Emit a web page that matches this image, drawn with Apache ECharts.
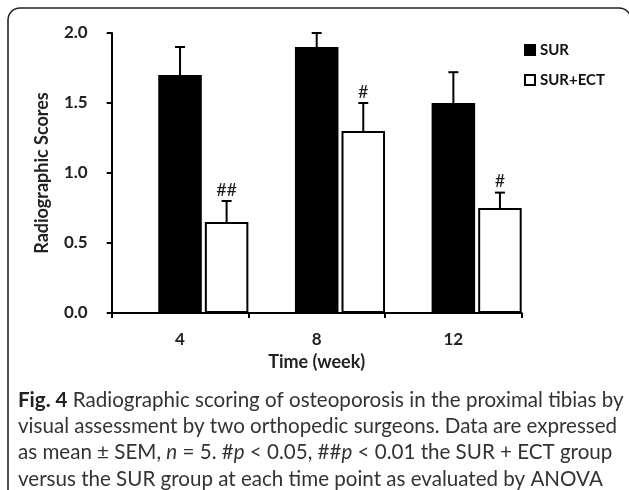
<!DOCTYPE html>
<html>
<head>
<meta charset="utf-8">
<script src="https://cdn.jsdelivr.net/npm/echarts@6/dist/echarts.min.js"></script>
<style>
html,body{margin:0;padding:0;background:#fff;}
#chart{width:629px;height:490px;}
</style>
</head>
<body>
<div id="chart"></div>
<script>
// ---- data ----
const categories = ['4', '8', '12'];
const surMean = [1.7, 1.9, 1.5];
const surSem = [0.2, 0.1, 0.22];
const ectMean = [0.65, 1.3, 0.75];
const ectSem = [0.15, 0.2, 0.11];
const ectMarks = ['##', '#', '#'];
const surMarks = ['', '', ''];
const yMin = 0, yMax = 2, yInterval = 0.5;
const captionLines = [
  '{b|Fig. 4} Radiographic scoring of osteoporosis in the proximal tibias by',
  'visual assessment by two orthopedic surgeons. Data are expressed',
  'as mean \u00b1 SEM, {i|n} = 5. #{i|p} < 0.05, ##{i|p} < 0.01 the SUR + ECT group',
  'versus the SUR group at each time point as evaluated by ANOVA'
];

const G = 0.07; // bar gap ratio
const FONT = 'Lato';

// fit caption font size so that line 1 spans the target width
function fitCaption() {
  const c = document.createElement('canvas').getContext('2d');
  const base = 18;
  c.font = 'bold ' + base + 'px ' + FONT;
  let w = c.measureText('Fig. 4').width;
  c.font = base + 'px ' + FONT;
  w += c.measureText(' Radiographic scoring of osteoporosis in the proximal tibias by').width;
  return base * 606 / w;
}
const capSize = fitCaption();

function errRender(slot, marks) {
  return function (params, api) {
    const idx = api.value(0);
    const mean = api.value(1);
    const sem = api.value(2);
    const c0 = api.coord([idx, mean]);
    const c1 = api.coord([idx, mean + sem]);
    const band = api.size([1, 0])[0];
    const bw = band / (3 + 2 * G);
    const x = c0[0] - band / 2 + bw * (slot + 0.5) + G * bw * slot;
    const cap = 5;
    const st = { stroke: '#000', lineWidth: 2 };
    return {
      type: 'group',
      children: [
        { type: 'line', shape: { x1: x, y1: c0[1], x2: x, y2: c1[1] }, style: st },
        { type: 'line', shape: { x1: x - cap, y1: c1[1], x2: x + cap, y2: c1[1] }, style: st },
        { type: 'text', x: x, y: c1[1] - 2,
          style: { text: marks[params.dataIndex], fill: '#1a1a1a', font: '18px ' + FONT,
                   textAlign: 'center', textVerticalAlign: 'bottom' } }
      ]
    };
  };
}

const chart = echarts.init(document.getElementById('chart'), null, { renderer: 'canvas' });

const graphics = [
  { type: 'rect', shape: { x: 8, y: 8, width: 623, height: 540, r: 12 },
    style: { fill: 'none', stroke: '#222', lineWidth: 1.6 }, z: -1 }
];
captionLines.forEach((t, i) => {
  graphics.push({
    type: 'text', left: 18, top: 402 + i * 26.3 - capSize * 0.6,
    style: {
      text: t, fill: '#333', font: capSize + 'px ' + FONT,
      rich: {
        b: { fontWeight: 'bold', fontSize: capSize, fontFamily: FONT, fill: '#222' },
        i: { fontStyle: 'italic', fontSize: capSize, fontFamily: FONT, fill: '#333' }
      }
    }
  });
});

chart.setOption({
  backgroundColor: '#fff',
  animation: false,
  grid: { left: 111.7, right: 107.3, top: 33, bottom: 177, containLabel: false },
  legend: {
    orient: 'vertical', left: 519, top: 37, itemWidth: 10, itemHeight: 10, itemGap: 14,
    icon: 'rect', data: ['SUR', 'SUR+ECT'],
    textStyle: { fontFamily: FONT, fontWeight: 'bold', fontSize: 15, color: '#111', lineHeight: 16 }
  },
  xAxis: {
    type: 'category', data: categories,
    axisLine: { lineStyle: { color: '#000', width: 2 } },
    axisTick: { show: true, length: 5, lineStyle: { color: '#000', width: 2 } },
    axisLabel: { fontFamily: FONT, fontWeight: 'bold', fontSize: 17, color: '#222', margin: 18 },
    name: 'Time (week)', nameLocation: 'middle', nameGap: 38,
    nameTextStyle: { fontFamily: FONT, fontWeight: 'bold', fontSize: 18, color: '#222' }
  },
  yAxis: {
    type: 'value', min: yMin, max: yMax, interval: yInterval,
    axisLine: { show: true, lineStyle: { color: '#000', width: 2 } },
    axisTick: { show: true, length: 5, lineStyle: { color: '#000', width: 2 } },
    splitLine: { show: false },
    axisLabel: { formatter: v => v.toFixed(1), fontFamily: FONT, fontWeight: 'bold', fontSize: 17,
                 color: '#222', margin: 24 },
    name: 'Radiographic Scores', nameLocation: 'middle', nameGap: 61,
    nameTextStyle: { fontFamily: FONT, fontWeight: 'bold', fontSize: 18, color: '#222' }
  },
  graphic: graphics,
  series: [
    { name: 'pad', type: 'bar', data: categories.map(() => 0), barCategoryGap: '0%', barGap: (G * 100) + '%',
      itemStyle: { color: 'rgba(0,0,0,0)' }, silent: true },
    { name: 'SUR', type: 'bar', data: surMean, barCategoryGap: '0%', barGap: (G * 100) + '%',
      itemStyle: { color: '#000', borderColor: '#000', borderWidth: 1.5 } },
    { name: 'SUR+ECT', type: 'bar', data: ectMean, barCategoryGap: '0%', barGap: (G * 100) + '%',
      itemStyle: { color: '#fff', borderColor: '#000', borderWidth: 2 } },
    { name: 'surErr', type: 'custom', renderItem: errRender(1, surMarks), z: 5,
      data: surMean.map((m, i) => [i, m, surSem[i]]) },
    { name: 'ectErr', type: 'custom', renderItem: errRender(2, ectMarks), z: 5,
      data: ectMean.map((m, i) => [i, m, ectSem[i]]) }
  ]
});
</script>
</body>
</html>
